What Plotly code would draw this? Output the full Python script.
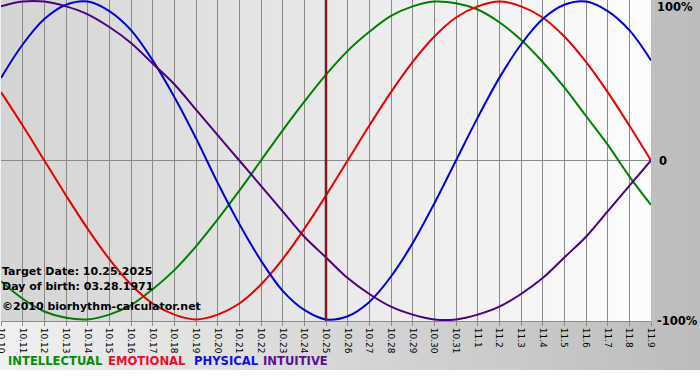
import base64
import plotly.graph_objects as go

# ---- data ----
day_labels = ["10.10", "10.11", "10.12", "10.13", "10.14", "10.15", "10.16", "10.17",
              "10.18", "10.19", "10.20", "10.21", "10.22", "10.23", "10.24", "10.25",
              "10.26", "10.27", "10.28", "10.29", "10.30", "10.31", "11.1", "11.2",
              "11.3", "11.4", "11.5", "11.6", "11.7", "11.8", "11.9"]

intellectual = [-0.76, -0.87, -0.95, -0.99, -1.00, -0.97, -0.91, -0.81, -0.69, -0.54,
                -0.37, -0.19, 0.00, 0.19, 0.37, 0.54, 0.69, 0.81, 0.91, 0.97,
                1.00, 0.99, 0.95, 0.87, 0.76, 0.62, 0.46, 0.28, 0.10, -0.10, -0.28]
emotional = [0.43, 0.22, 0.00, -0.22, -0.43, -0.62, -0.78, -0.90, -0.97, -1.00,
             -0.97, -0.90, -0.78, -0.62, -0.43, -0.22, 0.00, 0.22, 0.43, 0.62,
             0.78, 0.90, 0.97, 1.00, 0.97, 0.90, 0.78, 0.62, 0.43, 0.22, 0.00]
physical = [0.52, 0.73, 0.89, 0.98, 1.00, 0.94, 0.82, 0.63, 0.40, 0.14,
            -0.14, -0.40, -0.63, -0.82, -0.94, -1.00, -0.98, -0.89, -0.73, -0.52,
            -0.27, 0.00, 0.27, 0.52, 0.73, 0.89, 0.98, 1.00, 0.94, 0.82, 0.63]
intuitive = [0.97, 1.00, 1.00, 0.97, 0.92, 0.84, 0.74, 0.61, 0.48, 0.32,
             0.16, 0.00, -0.16, -0.32, -0.48, -0.61, -0.74, -0.84, -0.92, -0.97,
             -1.00, -1.00, -0.97, -0.92, -0.84, -0.74, -0.61, -0.48, -0.32, -0.16, 0.00]

series_names = ["INTELLECTUAL", "EMOTIONAL", "PHYSICAL", "INTUITIVE"]
series_colors = ["#008000", "#e80000", "#0000d8", "#4b0082"]
legend_colors = ["#0a8a0a", "#e8102a", "#1010e0", "#5a1090"]
target_label = "10.25"
target_date = "Target Date: 10.25.2025"
birth_date = "Day of birth: 03.28.1971"
copyright_text = "©2010 biorhythm-calculator.net"
y_labels = ["100%", "0", "-100%"]
y_label_vals = [1, 0, -1]

# ---- figure geometry ----
W, H = 700, 380
ML, MR, MT, MB = 1, 49, 0, 59
PW, PH = W - ML - MR, H - MT - MB

x = list(range(len(day_labels)))
fig = go.Figure()
for name, vals, col in zip(series_names, [intellectual, emotional, physical, intuitive], series_colors):
    fig.add_trace(go.Scatter(x=x, y=vals, mode="lines", name=name,
                             line=dict(color=col, width=2, shape="spline", smoothing=1),
                             showlegend=False, hoverinfo="skip"))


def svg_uri(svg):
    return "data:image/svg+xml;base64," + base64.b64encode(svg.encode()).decode()


paper_svg = (f'<svg xmlns="http://www.w3.org/2000/svg" width="{W}" height="{H}" preserveAspectRatio="none">'
             '<defs><linearGradient id="g" x1="0" y1="0" x2="1" y2="0">'
             '<stop offset="0" stop-color="#f0f0f0"/><stop offset="1" stop-color="#bcbcbc"/>'
             '</linearGradient></defs>'
             f'<rect x="0" y="0" width="{W}" height="{H}" fill="#ffffff"/>'
             f'<rect x="0" y="0" width="{W}" height="370" fill="url(#g)"/></svg>')
plot_svg = (f'<svg xmlns="http://www.w3.org/2000/svg" width="{PW}" height="{PH}" preserveAspectRatio="none">'
            '<defs><linearGradient id="p" x1="0" y1="0" x2="1" y2="0">'
            '<stop offset="0" stop-color="#d4d4d4"/><stop offset="1" stop-color="#fdfdfd"/>'
            '</linearGradient></defs>'
            f'<rect x="0" y="0" width="{PW}" height="{PH}" fill="url(#p)"/></svg>')

fig.add_layout_image(dict(source=svg_uri(paper_svg), xref="paper", yref="paper",
                          x=-ML / PW, y=1 + MT / PH, sizex=W / PW, sizey=H / PH,
                          xanchor="left", yanchor="top", sizing="stretch", layer="below"))
fig.add_layout_image(dict(source=svg_uri(plot_svg), xref="paper", yref="paper",
                          x=0, y=1, sizex=1, sizey=1,
                          xanchor="left", yanchor="top", sizing="stretch", layer="below"))

# target date line
ti = day_labels.index(target_label)
fig.add_shape(type="line", xref="x", yref="paper", x0=ti, x1=ti, y0=0, y1=1,
              line=dict(color="#7a1c1c", width=2.5), layer="above")

for txt, yy in [(target_date, 271.5), (birth_date, 286.5), (copyright_text, 306.5)]:
    fig.add_annotation(text=f"<b>{txt}</b>", xref="paper", yref="paper",
                       x=(0 - ML) / PW, y=1 - (yy - MT) / PH, xanchor="left", yanchor="middle",
                       showarrow=False, font=dict(family="DejaVu Sans", size=11, color="#000000"))

legend_x = [6, 106, 192, 261]
for n, c, lx in zip(series_names, legend_colors, legend_x):
    fig.add_annotation(text=f"<b>{n}</b>", xref="paper", yref="paper",
                       x=(lx - ML) / PW, y=1 - (361 - MT) / PH, xanchor="left", yanchor="middle",
                       showarrow=False, font=dict(family="DejaVu Sans", size=11.6, color=c))

for lab, v in zip(y_labels, y_label_vals):
    ypix = {1: 7, 0: 161, -1: 321}[v]
    fig.add_annotation(text=f"<b>{lab}</b>", xref="paper", yref="paper",
                       x=1 + (4 if lab != "0" else 6) / PW, y=1 - (ypix - MT) / PH,
                       xanchor="left", yanchor="middle", showarrow=False,
                       font=dict(family="DejaVu Sans", size=11.5, color="#000000"))

fig.update_layout(
    width=W, height=H, margin=dict(l=ML, r=MR, t=MT, b=MB, pad=0, autoexpand=False),
    paper_bgcolor="#ffffff", plot_bgcolor="rgba(0,0,0,0)",
    xaxis=dict(range=[0, len(day_labels) - 1], tickmode="array", tickvals=x, ticktext=day_labels,
               tickangle=90, showgrid=True, gridcolor="#8a8a8a", gridwidth=1, automargin=False,
               ticks="outside", ticklen=4, tickcolor="#8a8a8a", showline=True,
               linecolor="#8a8a8a", linewidth=1, zeroline=False, mirror=False,
               ticklabeloverflow="allow",
               tickfont=dict(family="DejaVu Sans", size=9, color="#000000")),
    yaxis=dict(range=[-1.01, 1.01], showticklabels=False, showgrid=False, zeroline=True,
               automargin=False, zerolinecolor="#8a8a8a", zerolinewidth=1, ticks=""),
)

fig.write_html("out.html", config={"displayModeBar": False, "staticPlot": True},
               post_script="document.body.style.margin='0px';document.body.style.overflow='hidden';")
